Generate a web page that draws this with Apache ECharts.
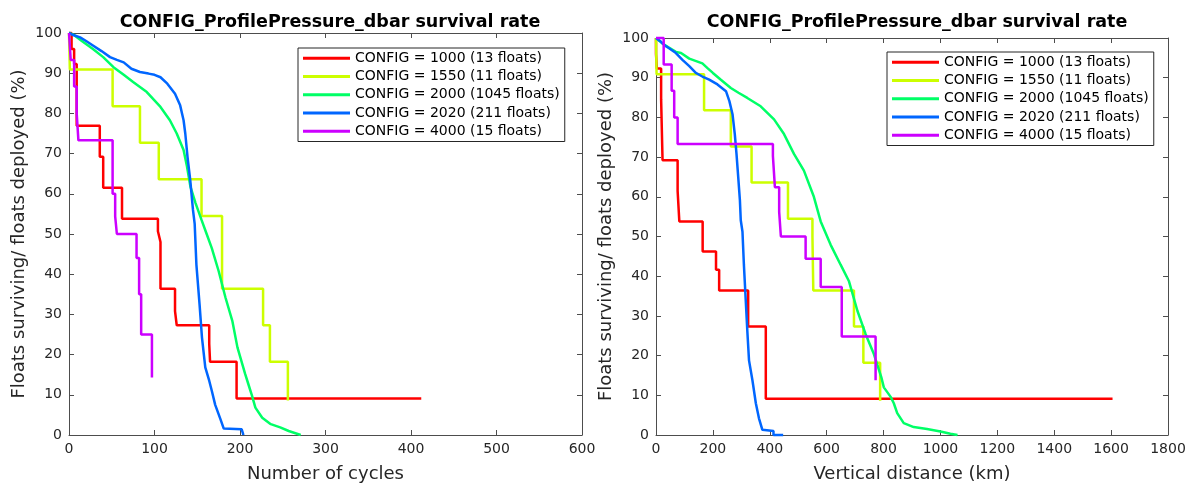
<!DOCTYPE html>
<html>
<head>
<meta charset="utf-8">
<script src="https://cdn.jsdelivr.net/npm/echarts@6/dist/echarts.min.js"></script>
<style>
html,body{margin:0;padding:0;background:#fff;}
#c{width:1197px;height:488px;}
</style>
</head>
<body>
<div id="c"></div>
<script>
// ---------- DATA ----------
const chartTitle = 'CONFIG_ProfilePressure_dbar survival rate';
const seriesNames = [
  'CONFIG = 1000 (13 floats)',
  'CONFIG = 1550 (11 floats)',
  'CONFIG = 2000 (1045 floats)',
  'CONFIG = 2020 (211 floats)',
  'CONFIG = 4000 (15 floats)'
];
const seriesColors = ['#ff0000', '#ccff00', '#00ff66', '#0066ff', '#cc00ff'];
const leftXName = 'Number of cycles';
const rightXName = 'Vertical distance (km)';
const yName = 'Floats surviving/ floats deployed (%)';

// Left panel: [cycles, % surviving]
const red1000_cycles = [[0,100],[3,100],[3,96],[6,96],[6,92.3],[9,92.3],[9,76.9],[36,76.9],[36,69.2],[40,69.2],[40,61.5],[62,61.5],[62,53.8],[104,53.8],[104,50.7],[107,48],[107,36.4],[124,36.4],[124,30.8],[126,27.3],[164,27.3],[164,22.7],[165,18.2],[196,18.2],[196,9.1],[412,9.1]];
const yellow1550_cycles = [[0,100],[1,100],[1,90.9],[51,90.9],[51,81.8],[83,81.8],[83,72.7],[105,72.7],[105,63.6],[155,63.6],[155,54.5],[179,54.5],[179,36.4],[227,36.4],[227,27.3],[235,27.3],[235,18.2],[256,18.2],[256,8.6]];
const green2000_cycles = [[0,100],[5,99.6],[15,98],[28,96],[40,94],[52,91.5],[64,89.6],[75,87.8],[91,85.3],[107,81.6],[118,78.3],[126,75],[134,70.9],[138,66.8],[142,61.8],[148,57.7],[155,53.5],[161,50],[167,46.5],[175,40.8],[183,34.2],[191,28.4],[197,21.8],[206,15.2],[210,12.5],[214,9.8],[218,6.8],[226,4.3],[236,2.7],[247,1.9],[257,1.0],[264,0.5],[271,0]];
const blue2020_cycles = [[0,100],[5,99.5],[13,98.9],[20,98],[28,96.9],[38,95.5],[48,94],[56,93.3],[64,92.7],[73,91.1],[83,90.3],[93,89.9],[100,89.6],[107,89],[115,87.4],[124,84.9],[130,82],[134,78.3],[136,75],[138.6,69.2],[141.8,63.4],[145,56],[147,52.5],[149,42.4],[152.7,32.5],[155.5,24.3],[159.4,16.8],[164,13.5],[167,11],[171,7.5],[177,4],[181,1.6],[181,1.4],[202,1.4],[204,0]];
const magenta4000_cycles = [[0,100],[2,100],[2,93.3],[6,93.3],[6,86.7],[9,86.7],[9,80],[11,80],[11,73.3],[51,73.3],[51,60],[54,60],[54,54.4],[56,54.4],[56,50],[79,50],[79,44],[82,44],[82,35],[84.4,35],[84.4,25],[97,25],[97,14.3]];

// Right panel: [km, % surviving]
const red1000_km = [[0,100],[0,96],[3,96],[3,92.3],[18,92.3],[18,84.6],[23,84.6],[23,69.2],[76,69.2],[76,61.5],[82,61.5],[82,53.8],[164,53.8],[164,46.2],[211,46.2],[211,41.6],[222,41.6],[222,36.4],[324,36.4],[324,27.3],[386,27.3],[386,9.1],[1605,9.1]];
const yellow1550_km = [[0,100],[2,100],[2,90.9],[169,90.9],[169,81.8],[263,81.8],[263,72.7],[336,72.7],[336,63.6],[464,63.6],[464,54.5],[550,54.5],[550,50],[553,50],[553,36.4],[696,36.4],[696,27.3],[729,27.3],[729,18.2],[788,18.2],[788,8.6]];
const green2000_km = [[0,100],[23,98.6],[41,97.8],[70,96.5],[88,96.2],[117,94.8],[123,94.5],[163,93.6],[181,92.4],[200,91.2],[228,89.5],[263,87.4],[290,86.2],[321,84.9],[368,82.8],[415,79.5],[450,75.8],[485,70.8],[520,66.6],[555,60],[579,53.8],[614,47.9],[649,42.9],[678,38.8],[708,31.3],[737,25.4],[766,20.4],[792,14.6],[801,12],[825,9.6],[836,8],[848,5.5],[871,3],[906,2],[953,1.5],[1000,0.9],[1035,0.3],[1060,0]];
const blue2020_km = [[0,100],[15,99.2],[29,98.2],[46,97.4],[70,96.2],[93,94.5],[117,92.9],[140,91.2],[163,90.3],[187,89.5],[216,88.3],[246,86.6],[258,84.1],[269,80.8],[277,75.8],[283,70.8],[289,65],[295,59.1],[298,54.1],[304,51.2],[309,42.9],[315,34.6],[321,26.3],[327,18.8],[339,13.8],[351,8],[362,4.2],[374,1.3],[374,1.0],[413,1.0],[413,0],[447,0]];
const magenta4000_km = [[0,100],[27,100],[27,93.3],[55,93.3],[55,86.7],[64,86.7],[64,80],[76,80],[76,73.3],[411,73.3],[411,70.3],[418,70.3],[418,62.4],[433,62.4],[433,56.2],[439,56.2],[439,50],[526,50],[526,44.4],[579,44.4],[579,37.3],[653,37.3],[653,24.8],[772,24.8],[772,13.8]];

const leftData = [red1000_cycles, yellow1550_cycles, green2000_cycles, blue2020_cycles, magenta4000_cycles];
const rightData = [red1000_km, yellow1550_km, green2000_km, blue2020_km, magenta4000_km];

// ---------- CHART ----------
const FONT = 'DejaVu Sans';
const AX = '#4d4d4d';
const TXT = '#262626';
const chart = echarts.init(document.getElementById('c'), null, {renderer: 'canvas'});
const plainNum = v => String(v);

function xAx(grid, max, interval, name, pos) {
  const main = pos === 'bottom';
  return {
    type: 'value', gridIndex: grid, position: pos, min: 0, max: max, interval: interval,
    axisLine: {show: true, onZero: false, lineStyle: {color: AX, width: 1}},
    axisTick: {show: true, inside: true, length: 5, lineStyle: {color: AX}},
    axisLabel: {show: main, color: TXT, fontSize: 14, fontFamily: FONT, margin: 7, formatter: plainNum},
    splitLine: {show: false},
    name: main ? name : '', nameLocation: 'middle', nameGap: 30,
    nameTextStyle: {color: TXT, fontSize: 18, fontFamily: FONT}
  };
}
function yAx(grid, pos) {
  const main = pos === 'left';
  return {
    type: 'value', gridIndex: grid, position: pos, min: 0, max: 100, interval: 10,
    axisLine: {show: true, onZero: false, lineStyle: {color: AX, width: 1}},
    axisTick: {show: true, inside: true, length: 5, lineStyle: {color: AX}},
    axisLabel: {show: main, color: TXT, fontSize: 14, fontFamily: FONT, margin: 7, formatter: plainNum},
    splitLine: {show: false},
    name: main ? yName : '', nameLocation: 'middle', nameGap: 41,
    nameTextStyle: {color: TXT, fontSize: 18, fontFamily: FONT}
  };
}
function legendAt(left, top) {
  return {
    orient: 'vertical', left: left, top: top,
    data: seriesNames, icon: 'rect', itemWidth: 47, itemHeight: 3, itemGap: 4,
    padding: [3, 5, 3, 5], borderColor: '#262626', borderWidth: 1, backgroundColor: '#fff',
    textStyle: {color: '#000', fontSize: 14, fontFamily: FONT, lineHeight: 14.3},
    selectedMode: false
  };
}

const series = [];
leftData.forEach((d, i) => series.push({
  name: seriesNames[i], type: 'line', xAxisIndex: 0, yAxisIndex: 0, data: d,
  showSymbol: false, symbol: 'none', clip: false, color: seriesColors[i],
  lineStyle: {color: seriesColors[i], width: 2.5}, animation: false
}));
rightData.forEach((d, i) => series.push({
  name: seriesNames[i], type: 'line', xAxisIndex: 2, yAxisIndex: 2, data: d,
  showSymbol: false, symbol: 'none', clip: false, color: seriesColors[i],
  lineStyle: {color: seriesColors[i], width: 2.5}, animation: false
}));

chart.setOption({
  animation: false,
  backgroundColor: '#fff',
  title: [
    {text: chartTitle, left: 325, top: 8, textAlign: 'center',
     textStyle: {fontSize: 17.5, fontWeight: 'bold', fontFamily: FONT, color: '#000'}},
    {text: chartTitle, left: 912, top: 8, textAlign: 'center',
     textStyle: {fontSize: 17.5, fontWeight: 'bold', fontFamily: FONT, color: '#000'}}
  ],
  grid: [
    {left: 69, right: 615, top: 33, bottom: 50},
    {left: 656, right: 29, top: 38, bottom: 50}
  ],
  xAxis: [
    xAx(0, 600, 100, leftXName, 'bottom'), xAx(0, 600, 100, '', 'top'),
    xAx(1, 1800, 200, rightXName, 'bottom'), xAx(1, 1800, 200, '', 'top')
  ],
  yAxis: [yAx(0, 'left'), yAx(0, 'right'), yAx(1, 'left'), yAx(1, 'right')],
  legend: [legendAt(298, 48), legendAt(887, 52)],
  series: series
});
</script>
</body>
</html>
